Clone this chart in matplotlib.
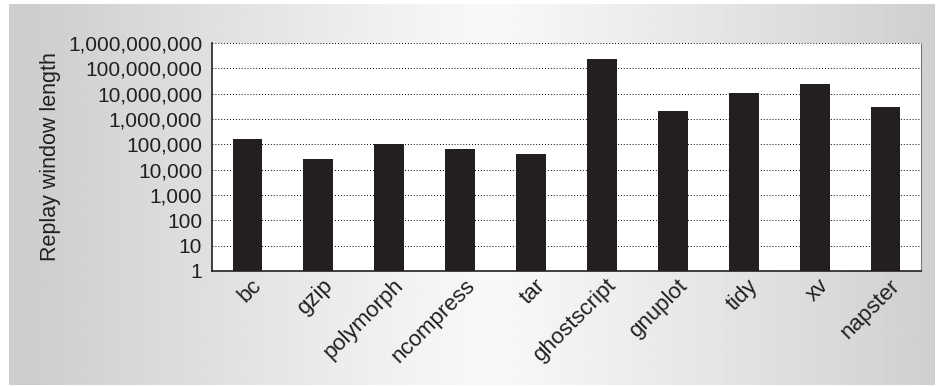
import numpy as np
import matplotlib
matplotlib.use("Agg")
import matplotlib.pyplot as plt
import matplotlib.transforms as mtrans
from matplotlib.ticker import FuncFormatter, FixedLocator, NullLocator

# --- DATA ---
programs = ["bc", "gzip", "polymorph", "ncompress", "tar",
            "ghostscript", "gnuplot", "tidy", "xv", "napster"]
window_len = [158000, 27000, 100000, 66000, 43000,
              234000000, 2080000, 11000000, 24000000, 2970000]
y_ticks = [1, 10, 100, 1000, 10000, 100000, 1000000,
           10000000, 100000000, 1000000000]

plt.rcParams['font.family'] = ['Liberation Sans', 'DejaVu Sans']

fig = plt.figure(figsize=(9.45, 3.86), dpi=100)
fig.patch.set_facecolor('white')

# --- gray gradient panel behind everything ---
bg = fig.add_axes([0.0095, 0.0026, 0.9795, 0.987], zorder=0)
xs = np.linspace(0, 1, 400)
shade = 0.975 - 0.17 * np.clip(np.abs(xs - 0.52) / 0.5, 0, 1) ** 1.1
bg.imshow(np.tile(shade, (20, 1)), cmap='gray', vmin=0, vmax=1,
          aspect='auto', extent=[0, 1, 0, 1])
bg.set_axis_off()

# --- main bar chart ---
ax = fig.add_axes([0.2243, 0.298, 0.7503, 0.5906], zorder=1)
ax.set_facecolor('white')
x = np.arange(len(programs))
ax.bar(x, window_len, width=0.42, color='#231f20', zorder=3)

ax.set_yscale('log')
ax.set_ylim(1, 1e9)
ax.set_xlim(-0.5, len(programs) - 0.5)
ax.yaxis.set_major_locator(FixedLocator(y_ticks))
ax.yaxis.set_minor_locator(NullLocator())
ax.yaxis.set_major_formatter(FuncFormatter(lambda v, p: f"{int(round(v)):,}"))
ax.grid(axis='y', linestyle=(0, (1, 2)), color='black', linewidth=0.7, zorder=1)

ax.set_xticks(x)
ax.set_xticklabels(programs, rotation=45, ha='right', rotation_mode='anchor',
                   fontsize=16)
ax.tick_params(axis='both', length=0, colors='#231f20')
ax.tick_params(axis='y', labelsize=15, pad=7)
ax.tick_params(axis='x', pad=3)
# nudge rotated labels a little to the right, as in the original
shift = mtrans.ScaledTranslation(4 / 100, 0, fig.dpi_scale_trans)
for lbl in ax.get_xticklabels():
    lbl.set_transform(lbl.get_transform() + shift)

ax.set_ylabel('Replay window length', fontsize=15.5, color='#231f20', labelpad=5)

ax.spines['top'].set_visible(False)
ax.spines['right'].set_linestyle((0, (1, 1)))
ax.spines['right'].set_color('#777777')
ax.spines['right'].set_linewidth(0.8)
for s in ['left', 'bottom']:
    ax.spines[s].set_color('#231f20')
    ax.spines[s].set_linewidth(1.2)

fig.savefig('out.png', dpi=100)
